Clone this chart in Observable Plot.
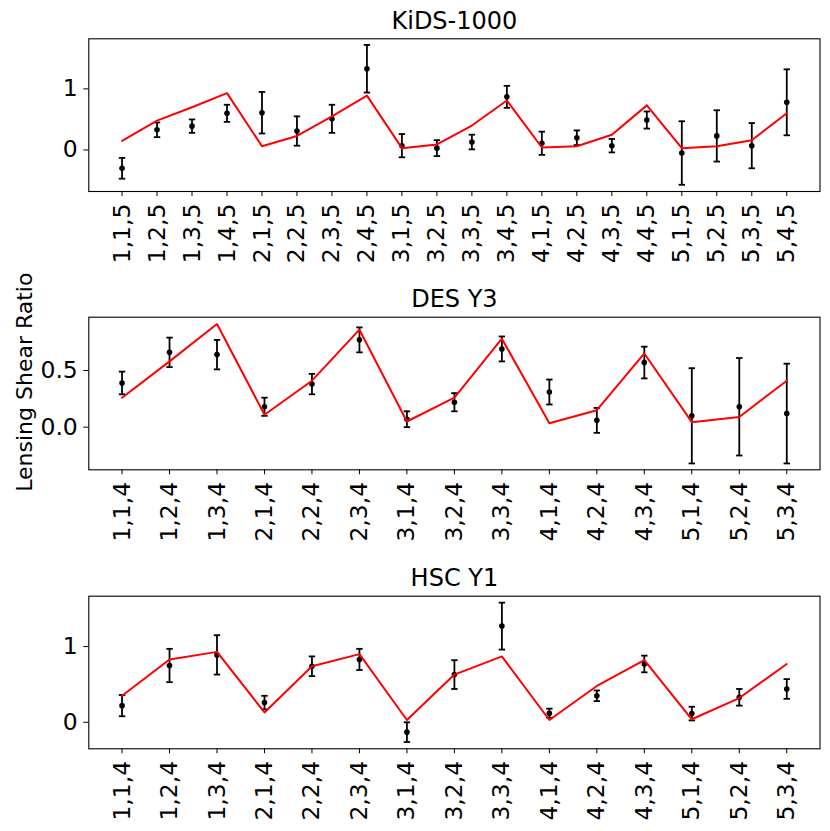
<!DOCTYPE html>
<html>
<head>
<meta charset="utf-8">
<script src="https://cdn.jsdelivr.net/npm/d3@7"></script>
<script src="https://cdn.jsdelivr.net/npm/@observablehq/plot@0.6"></script>
<style>
  html, body { margin: 0; padding: 0; background: white; }
  #chart { position: relative; width: 830px; height: 831px; overflow: hidden; background: white; }
  #chart svg { position: absolute; left: 0; }
</style>
</head>
<body>
<div id="chart"></div>
<script>
// ---- KiDS-1000 ----
const kidsLabels = ["1,1,5","1,2,5","1,3,5","1,4,5","2,1,5","2,2,5","2,3,5","2,4,5","3,1,5","3,2,5","3,3,5","3,4,5","4,1,5","4,2,5","4,3,5","4,4,5","5,1,5","5,2,5","5,3,5","5,4,5"];
const kidsData  = [-0.30, 0.33, 0.39, 0.60, 0.61, 0.31, 0.51, 1.33, 0.07, 0.03, 0.13, 0.87, 0.11, 0.20, 0.07, 0.49, -0.05, 0.23, 0.07, 0.78];
const kidsErr   = [0.17, 0.12, 0.11, 0.14, 0.34, 0.24, 0.23, 0.39, 0.19, 0.13, 0.12, 0.18, 0.19, 0.12, 0.11, 0.14, 0.52, 0.42, 0.37, 0.54];
const kidsModel = [0.15, 0.48, 0.70, 0.93, 0.06, 0.23, 0.55, 0.89, 0.03, 0.09, 0.40, 0.81, 0.04, 0.06, 0.25, 0.73, 0.03, 0.06, 0.16, 0.60];
const kidsYTicks = [0, 1];

// ---- DES Y3 ----
const desLabels = ["1,1,4","1,2,4","1,3,4","2,1,4","2,2,4","2,3,4","3,1,4","3,2,4","3,3,4","4,1,4","4,2,4","4,3,4","5,1,4","5,2,4","5,3,4"];
const desData   = [0.39, 0.66, 0.64, 0.18, 0.38, 0.77, 0.07, 0.22, 0.69, 0.31, 0.06, 0.57, 0.10, 0.18, 0.12];
const desErr    = [0.10, 0.13, 0.13, 0.08, 0.09, 0.11, 0.07, 0.08, 0.11, 0.11, 0.11, 0.14, 0.42, 0.43, 0.44];
const desModel  = [0.26, 0.58, 0.91, 0.11, 0.41, 0.86, 0.05, 0.26, 0.78, 0.035, 0.15, 0.65, 0.044, 0.09, 0.41];
const desYTicks = [0, 0.5];

// ---- HSC Y1 ----
const hscLabels = ["1,1,4","1,2,4","1,3,4","2,1,4","2,2,4","2,3,4","3,1,4","3,2,4","3,3,4","4,1,4","4,2,4","4,3,4","5,1,4","5,2,4","5,3,4"];
const hscData   = [0.22, 0.75, 0.89, 0.26, 0.74, 0.83, -0.13, 0.63, 1.27, 0.12, 0.35, 0.77, 0.115, 0.33, 0.44];
const hscErr    = [0.14, 0.22, 0.26, 0.09, 0.13, 0.14, 0.13, 0.19, 0.31, 0.06, 0.07, 0.11, 0.09, 0.11, 0.13];
const hscModel  = [0.35, 0.83, 0.93, 0.13, 0.74, 0.90, 0.03, 0.63, 0.87, 0.03, 0.48, 0.82, 0.04, 0.32, 0.77];
const hscYTicks = [0, 1];

const yLabel = "Lensing Shear Ratio";

// horizontal cap symbol for error bars
const capSymbol = {
  draw(context, size) {
    const w = Math.sqrt(size / Math.PI);
    context.moveTo(-w, 0);
    context.lineTo(w, 0);
  }
};

const FONT = "DejaVu Sans";
const FS_TICK = 23.5;
const FS_TITLE = 24;
const FS_YLABEL = 22;

function panel({title, labels, data, err, model, yDomain, yTicks, yFormat, top, height, mt, mb, withYLabel, yLabelDy}) {
  const rows = labels.map((l, i) => ({label: l, y: data[i], lo: data[i] - err[i], hi: data[i] + err[i], m: model[i]}));
  const n = labels.length;
  const marks = [
    Plot.frame({stroke: "black", strokeWidth: 1.1}),
    Plot.axisY({ticks: yTicks, tickSize: 5, tickPadding: 6, tickFormat: yFormat, fontSize: FS_TICK, label: null, stroke: "black"}),
    Plot.axisX({tickSize: 5, tickFormat: () => "", label: null, stroke: "black"}),
    Plot.text(labels, {x: d => d, frameAnchor: "bottom", rotate: -90, textAnchor: "end", lineAnchor: "middle", dy: 12, fontSize: FS_TICK, fill: "black"}),
    Plot.ruleX(rows, {x: "label", y1: "lo", y2: "hi", stroke: "black", strokeWidth: 1.8}),
    Plot.dot(rows, {x: "label", y: "lo", symbol: capSymbol, r: 3.2, stroke: "black", strokeWidth: 1.8, fill: "none"}),
    Plot.dot(rows, {x: "label", y: "hi", symbol: capSymbol, r: 3.2, stroke: "black", strokeWidth: 1.8, fill: "none"}),
    Plot.dot(rows, {x: "label", y: "y", r: 2.8, fill: "black", stroke: "none"}),
    Plot.line(rows, {x: "label", y: "m", stroke: "red", strokeWidth: 2}),
    Plot.text([title], {frameAnchor: "top", textAnchor: "middle", dy: -10, lineAnchor: "bottom", fontSize: FS_TITLE, fill: "black"})
  ];
  if (withYLabel) {
    marks.push(Plot.text([yLabel], {frameAnchor: "left", textAnchor: "middle", dx: -56.5, dy: yLabelDy, rotate: -90, lineAnchor: "bottom", fontSize: FS_YLABEL, fill: "black"}));
  }
  const svg = Plot.plot({
    width: 830,
    height: height,
    marginLeft: 88.3,
    marginRight: 10.5,
    marginTop: mt,
    marginBottom: mb,
    style: {fontFamily: FONT, fontSize: FS_TICK + "px", color: "black", background: "white", overflow: "visible"},
    x: {type: "point", domain: labels, padding: (n - 1) * 0.05, round: false, label: null},
    y: {domain: yDomain, label: null},
    marks
  });
  svg.style.top = top + "px";
  return svg;
}

const chart = document.getElementById("chart");
chart.appendChild(panel({
  title: "KiDS-1000", labels: kidsLabels, data: kidsData, err: kidsErr, model: kidsModel,
  yDomain: [-0.68, 1.82], yTicks: kidsYTicks, yFormat: d3.format("d"),
  top: 0, height: 278, mt: 38.3, mb: 87
}));
chart.appendChild(panel({
  title: "DES Y3", labels: desLabels, data: desData, err: desErr, model: desModel,
  yDomain: [-0.376, 0.97], yTicks: desYTicks, yFormat: d3.format(".1f"),
  top: 278, height: 278, mt: 38.7, mb: 86.7, withYLabel: true, yLabelDy: -11.3
}));
chart.appendChild(panel({
  title: "HSC Y1", labels: hscLabels, data: hscData, err: hscErr, model: hscModel,
  yDomain: [-0.35, 1.665], yTicks: hscYTicks, yFormat: d3.format("d"),
  top: 556, height: 275, mt: 39.7, mb: 82.7
}));
</script>
</body>
</html>
